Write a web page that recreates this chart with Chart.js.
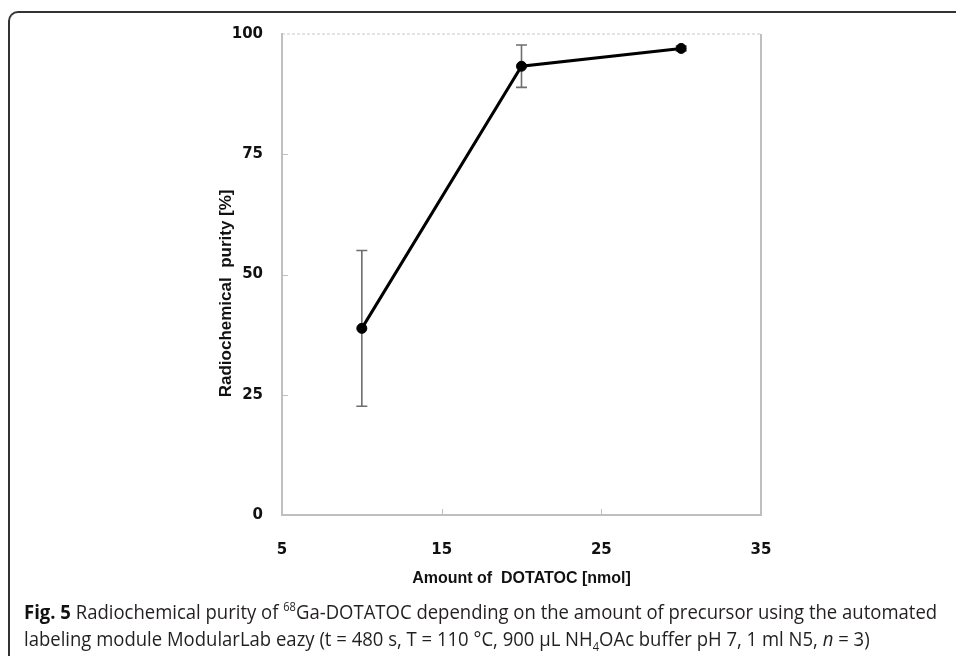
<!DOCTYPE html>
<html>
<head>
<meta charset="utf-8">
<script src="https://cdn.jsdelivr.net/npm/chart.js@4"></script>
<style>
	body { margin: 0; background: #ffffff; width: 956px; height: 656px; overflow: hidden; position: relative; }
	#frame {
		position: absolute; left: 8px; top: 11px; width: 1000px; height: 700px;
		border-left: 2px solid #333333; border-top: 2px solid #333333;
		border-top-left-radius: 10px;
	}
	#chartBox { position: absolute; left: 0; top: 0; width: 956px; height: 600px; }
	#caption {
		position: absolute; left: 24px; top: 598px; width: 1100px;
		font-family: "Open Sans", sans-serif;
		font-size: 20px; line-height: 27px; color: #231f20;
		transform: scaleX(0.925); transform-origin: 0 0; white-space: nowrap;
	}
	#caption b { color: #111111; }
	sup, sub { font-size: 12px; line-height: 0; }
</style>
</head>
<body>
<div id="frame"></div>
<div id="chartBox"><canvas id="purityChart"></canvas></div>
<div id="caption"><b>Fig. 5</b> Radiochemical purity of <sup>68</sup>Ga-DOTATOC depending on the amount of precursor using the automated<br>labeling module ModularLab eazy (t = 480 s, T = 110 °C, 900 μL NH<sub>4</sub>OAc buffer pH 7, 1 ml N5, <i>n</i> = 3)</div>
<script>
// data
const amounts = [10, 20, 30];
const purity = [38.8, 93.3, 97.0];
const purityErr = [16.2, 4.4, 0.5];
const xTicks = [5, 15, 25, 35];
const yTicks = [0, 25, 50, 75, 100];

// plot frame: dashed top, solid right, small inner tick marks
const framePlugin = {
	id: 'frame',
	beforeDatasetsDraw(chart) {
		const { ctx, chartArea: a, scales } = chart;
		ctx.save();
		ctx.strokeStyle = '#c8c8c8';
		ctx.lineWidth = 1;
		ctx.setLineDash([3, 2]);
		ctx.beginPath();
		ctx.moveTo(a.left, a.top);
		ctx.lineTo(a.right, a.top);
		ctx.stroke();
		ctx.setLineDash([]);
		ctx.strokeStyle = '#bfbfbf';
		ctx.lineWidth = 2;
		ctx.beginPath();
		ctx.moveTo(a.right, a.top);
		ctx.lineTo(a.right, a.bottom);
		ctx.stroke();
		ctx.lineWidth = 1;
		yTicks.slice(1, -1).forEach(v => {
			const y = Math.round(scales.y.getPixelForValue(v)) + 0.5;
			ctx.beginPath();
			ctx.moveTo(a.left, y);
			ctx.lineTo(a.left + 6, y);
			ctx.stroke();
		});
		xTicks.slice(1, -1).forEach(v => {
			const x = Math.round(scales.x.getPixelForValue(v)) + 0.5;
			ctx.beginPath();
			ctx.moveTo(x, a.bottom);
			ctx.lineTo(x, a.bottom - 6);
			ctx.stroke();
		});
		ctx.restore();
	}
};

// error bars
const errorBarPlugin = {
	id: 'errorBars',
	beforeDatasetsDraw(chart) {
		const { ctx, scales } = chart;
		ctx.save();
		ctx.strokeStyle = '#6e6e6e';
		ctx.lineWidth = 1.6;
		amounts.forEach((xv, i) => {
			const x = scales.x.getPixelForValue(xv);
			const yTop = scales.y.getPixelForValue(purity[i] + purityErr[i]);
			const yBot = scales.y.getPixelForValue(purity[i] - purityErr[i]);
			ctx.beginPath();
			ctx.moveTo(x, yTop);
			ctx.lineTo(x, yBot);
			ctx.moveTo(x - 5.5, yTop);
			ctx.lineTo(x + 5.5, yTop);
			ctx.moveTo(x - 5.5, yBot);
			ctx.lineTo(x + 5.5, yBot);
			ctx.stroke();
		});
		ctx.restore();
	}
};

const ctx = document.getElementById('purityChart').getContext('2d');
const purityChart = new Chart(ctx, {
	type: 'line',
	data: {
		datasets: [{
			label: 'Radiochemical purity',
			data: amounts.map((x, i) => ({ x: x, y: purity[i] })),
			borderColor: '#000000',
			backgroundColor: '#000000',
			borderWidth: 3,
			pointRadius: 5,
			pointBorderWidth: 1,
			pointHoverRadius: 5,
			tension: 0,
			fill: false
		}]
	},
	options: {
		responsive: true,
		maintainAspectRatio: false,
		animation: false,
		layout: { padding: { left: 216, right: 195, top: 34, bottom: 4 } },
		plugins: {
			legend: { display: false },
			tooltip: { enabled: false }
		},
		scales: {
			x: {
				type: 'linear',
				min: 5,
				max: 35,
				afterBuildTicks: s => { s.ticks = xTicks.map(v => ({ value: v })); },
				afterFit: s => { s.height = 81; },
				grid: { display: false, drawTicks: false },
				border: { color: '#bfbfbf', width: 2 },
				ticks: {
					color: '#111111',
					padding: 26,
					font: { family: 'DejaVu Sans', size: 15, weight: 'bold' }
				},
				title: {
					display: true,
					text: 'Amount of  DOTATOC [nmol]',
					color: '#111111',
					padding: { top: 0, bottom: 8 },
					font: { family: 'Liberation Sans', size: 16, weight: 'bold' }
				}
			},
			y: {
				min: 0,
				max: 100,
				afterBuildTicks: s => { s.ticks = yTicks.map(v => ({ value: v })); },
				afterFit: s => { s.width = 66; },
				grid: { display: false, drawTicks: false },
				border: { color: '#bfbfbf', width: 2 },
				ticks: {
					color: '#111111',
					padding: 19,
					font: { family: 'DejaVu Sans', size: 15, weight: 'bold' }
				},
				title: {
					display: true,
					text: 'Radiochemical  purity [%]        ',
					color: '#111111',
					padding: { top: 0, bottom: 0 },
					font: { family: 'Liberation Sans', size: 17, weight: 'bold' }
				}
			}
		}
	},
	plugins: [framePlugin, errorBarPlugin]
});
</script>
</body>
</html>
